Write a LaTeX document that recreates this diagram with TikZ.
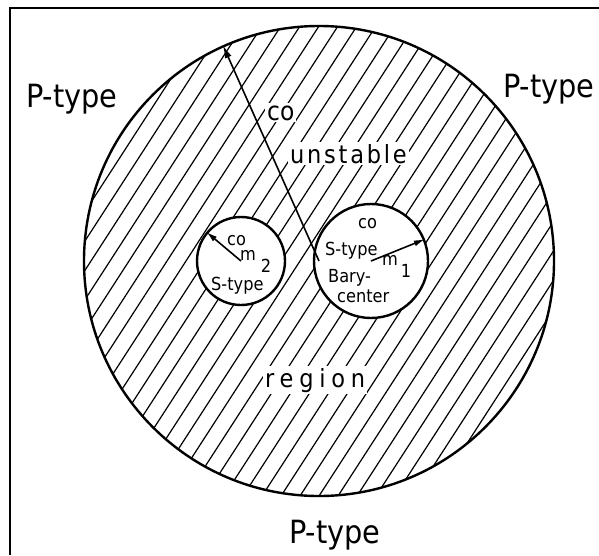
\documentclass[tikz,border=0pt]{standalone}
\usepackage{fontspec}
\setmainfont{DejaVu Sans}[FakeStretch=0.9]
\usetikzlibrary{arrows.meta,calc}
\tikzset{
  ring/.style={circle,draw=black,line width=2.4pt,inner sep=0pt},
  hatchline/.style={line width=1.2pt,black},
  radius arrow/.style={line width=1.6pt,-{Latex[length=13pt,width=7pt]}},
  big lbl/.style={inner sep=0pt,anchor=base west,font=\fontsize{32}{36}\selectfont},
  mid lbl/.style={inner sep=2pt,fill=white,anchor=base west,font=\fontsize{25}{30}\selectfont},
  small lbl/.style={inner sep=0pt,anchor=base west,font=\fontsize{18}{20}\selectfont},
}
\begin{document}
\begin{tikzpicture}[x=1pt,y=-1pt]
\useasboundingbox (0,0) rectangle (599,555);
% frame (top and left visible)
\draw[line width=2pt] (10,555) -- (10,8) -- (599,8);
% hatching inside big circle
\begin{scope}
  \clip (319,261) circle (235);
  \foreach \k in {-26,...,26}{
    \draw[hatchline] ({319+\k*19-163},513) -- ({319+\k*19+163},9);
  }
\end{scope}
% circles
\node[ring,minimum size=470pt] (big) at (319,261) {};
\node[ring,fill=white,minimum size=88pt] (mtwo) at (241,261) {};
\node[ring,fill=white,minimum size=114pt] (mone) at (371,261) {};
% labels in hatched region
\node[mid lbl,font=\fontsize{26}{30}\selectfont] (co) at (265,120) {co};
\node[mid lbl] (unstable) at (288,163) {\addfontfeature{LetterSpace=11}unstable};
\node[mid lbl] (region) at (263,387) {\addfontfeature{LetterSpace=23}region};
% P-type labels
\node[big lbl] (ptl) at (26,107) {P-type};
\node[big lbl] (ptr) at (503,97) {P-type};
\node[big lbl] (pb) at (289,543) {P-type};
% m2 circle labels
\node[small lbl] (cotwo) at (227,245) {co};
\node[small lbl] (mtwolbl) at (240,260) {m\hspace{5pt}\raisebox{-12pt}{2}};
\node[small lbl] (stwo) at (211,290) {S-type};
% m1 circle labels
\node[small lbl] (coone) at (358,228) {co};
\node[small lbl] (sone) at (325,255) {S-type};
\node[small lbl] (monelbl) at (382,265) {m\hspace{3pt}\raisebox{-12pt}{1}};
\node[small lbl] (bary) at (328,282) {Bary-};
\node[small lbl] (center) at (337,302) {center};
% radius arrows
\draw[radius arrow] (big.center) -- (big.114);
\draw[radius arrow,-{Latex[length=11pt,width=6pt]}] (mtwo.center) -- (mtwo.140);
\draw[radius arrow,-{Latex[length=11pt,width=6pt]}] (mone.center) -- (mone.22);
\end{tikzpicture}
\end{document}
